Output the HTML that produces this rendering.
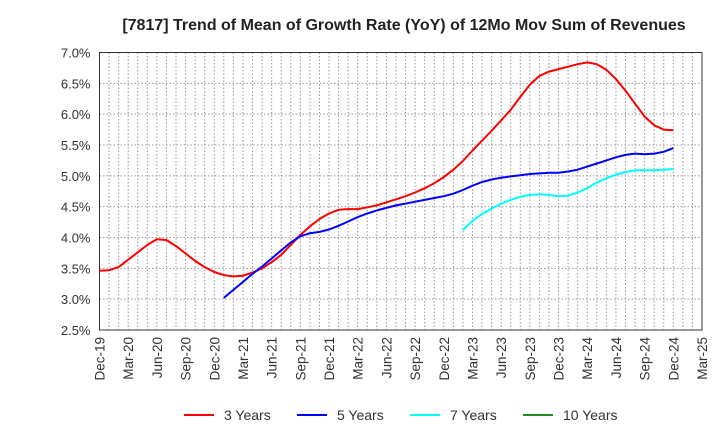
<!DOCTYPE html>
<html><head><meta charset="utf-8"><style>
body{margin:0;background:#fff;font-family:"Liberation Sans",Arial,sans-serif}
svg{display:block}
</style></head><body>
<svg id="chart" width="720" height="440" xmlns="http://www.w3.org/2000/svg">
<text x="404" y="30" text-anchor="middle" font-size="16" font-weight="bold" fill="#222">[7817]  Trend of Mean of Growth Rate (YoY) of 12Mo Mov Sum of Revenues</text>
<g id="grid"></g><g id="axes"></g><g id="series"></g>
<g id="legend" font-size="14" fill="#333"></g>
</svg>
<script>
const yTicks=[2.5,3.0,3.5,4.0,4.5,5.0,5.5,6.0,6.5,7.0];
const xLabels=["Dec-19","Mar-20","Jun-20","Sep-20","Dec-20","Mar-21","Jun-21","Sep-21","Dec-21","Mar-22","Jun-22","Sep-22","Dec-22","Mar-23","Jun-23","Sep-23","Dec-23","Mar-24","Jun-24","Sep-24","Dec-24","Mar-25"];
const red3=[3.46,3.47,3.52,3.64,3.76,3.88,3.97,3.96,3.86,3.74,3.62,3.52,3.44,3.39,3.37,3.38,3.43,3.5,3.6,3.72,3.88,4.04,4.18,4.3,4.39,4.45,4.46,4.46,4.49,4.52,4.57,4.62,4.67,4.73,4.8,4.88,4.98,5.1,5.24,5.41,5.57,5.73,5.9,6.07,6.28,6.48,6.62,6.69,6.73,6.77,6.81,6.84,6.81,6.72,6.57,6.38,6.17,5.96,5.82,5.75,5.74];
const red3Start=0;
const blue5=[3.02,3.15,3.28,3.41,3.53,3.66,3.79,3.92,4.02,4.07,4.09,4.13,4.19,4.26,4.33,4.39,4.44,4.48,4.52,4.55,4.58,4.61,4.64,4.67,4.71,4.77,4.84,4.9,4.94,4.97,4.99,5.01,5.03,5.04,5.05,5.05,5.07,5.1,5.15,5.2,5.25,5.3,5.34,5.36,5.35,5.36,5.39,5.45];
const blue5Start=13;
const cyan7=[4.12,4.27,4.38,4.47,4.55,4.61,4.66,4.69,4.7,4.69,4.67,4.68,4.73,4.8,4.89,4.96,5.02,5.06,5.09,5.09,5.09,5.1,5.11];
const cyan7Start=38;
const green10=[];
const green10Start=0;

const L=99.5,R=702,T=52.5,B=330,NS="http://www.w3.org/2000/svg";
const totalMonths=(xLabels.length-1)*3;
const xs=m=>L+(R-L)*m/totalMonths;
const ys=v=>B-(B-T)*(v-yTicks[0])/(yTicks[yTicks.length-1]-yTicks[0]);
function mk(tag,attrs,parent){const e=document.createElementNS(NS,tag);for(const k in attrs)e.setAttribute(k,attrs[k]);parent.appendChild(e);return e;}
const grid=document.getElementById('grid'),axes=document.getElementById('axes'),ser=document.getElementById('series'),leg=document.getElementById('legend');
for(let m=1;m<totalMonths;m++){
 const l=mk('line',{x1:xs(m),x2:xs(m),y1:T,y2:B,stroke:'#999','stroke-dasharray':'1.5,2','stroke-width':1},grid);
 
 
}
yTicks.forEach(v=>{
 const l=mk('line',{x1:L,x2:R,y1:ys(v),y2:ys(v),stroke:'#999','stroke-dasharray':'1.5,2','stroke-width':1},grid);
 
 
 const t=mk('text',{x:L-9,y:ys(v)+5,'text-anchor':'end','font-size':13,fill:'#333'},axes);
 t.textContent=v.toFixed(1)+'%';
 
 
});
xLabels.forEach((s,i)=>{
 const x=xs(i*3);
 const t=mk('text',{transform:`translate(${x+5},337) rotate(-90)`,'text-anchor':'end','font-size':13.5,fill:'#333'},axes);
 t.textContent=s;
 
 
});
const box=mk('rect',{x:L,y:T,width:R-L,height:B-T,fill:'none',stroke:'#333','stroke-width':1},axes);


function line(vals,start,color,name){
 if(!vals.length)return;
 const d=vals.map((v,i)=>(i?'L':'M')+xs(start+i).toFixed(1)+','+ys(v).toFixed(1)).join('');
 const p=mk('path',{d:d,fill:'none',stroke:color,'stroke-width':2,'stroke-linejoin':'round'},ser);
 
 
}
line(red3,red3Start,'#ff0000','series-3-years');
line(blue5,blue5Start,'#0000ff','series-5-years');
line(cyan7,cyan7Start,'#00ffff','series-7-years');
line(green10,green10Start,'#228b22','series-10-years');
const items=[["3 Years","#ff0000",184],["5 Years","#0000ff",297],["7 Years","#00ffff",410],["10 Years","#228b22",523]];
items.forEach(it=>{
 const g=mk('g',{},leg);
 
 
 mk('line',{x1:it[2],x2:it[2]+30,y1:415,y2:415,stroke:it[1],'stroke-width':2},g);
 const t=mk('text',{x:it[2]+40,y:420,'font-size':14,fill:'#333'},g);
 t.textContent=it[0];
});
</script>
</body></html>
